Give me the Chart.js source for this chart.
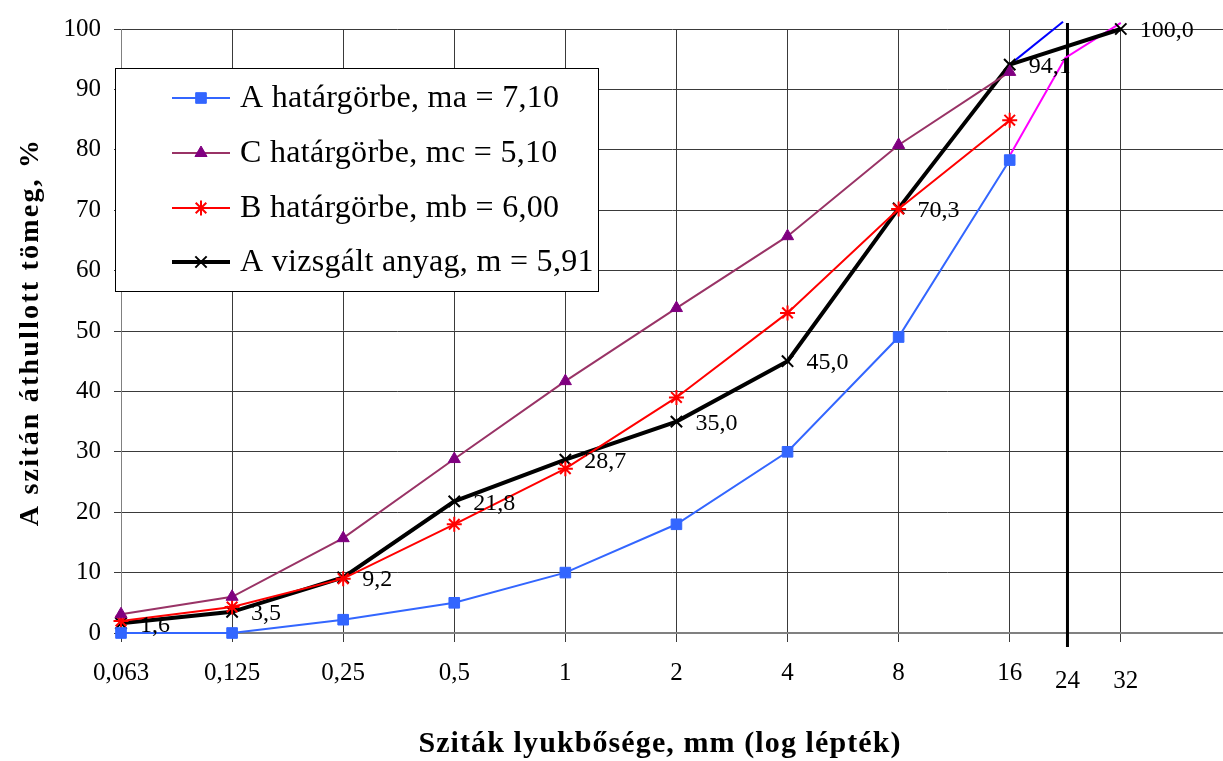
<!DOCTYPE html>
<html>
<head>
<meta charset="utf-8">
<script src="https://cdn.jsdelivr.net/npm/chart.js@4.4.1/dist/chart.umd.min.js"></script>
<style>
  html, body { margin: 0; padding: 0; background: #fff; overflow: hidden; }
  #wrap { width: 1223px; height: 761px; overflow: hidden; }
</style>
</head>
<body>
<div id="wrap"><canvas id="grading" width="1233" height="761"></canvas></div>
<script>
// Szitaméretek (kategória sorrendben) és a görbék értékei
const sieveLabels = ['0,063', '0,125', '0,25', '0,5', '1', '2', '4', '8', '16', '24', '32'];
const sievePos    = [0, 1, 2, 3, 4, 5, 6, 7, 8, 8.52, 9];

const curveA = [0, 0, 2.2, 5, 10, 18, 30, 49, 78.3];
const curveC = [3.1, 6, 15.7, 28.8, 41.7, 53.8, 65.7, 80.8, 92.9];
const curveB = [2, 4.3, 9, 18, 27.2, 39, 53, 70.2, 84.9];
const tested = [1.6, 3.5, 9.2, 21.8, 28.7, 35.0, 45.0, 70.3, 94.1, 100.0];
const testedSieves = ['0,063', '0,125', '0,25', '0,5', '1', '2', '4', '8', '16', '32'];

// kézzel rajzolt kiegészítő vonalak (a 24-es szitánál)
const blueExtX = [8, 8.48], blueExtY = [94.1, 101.2];
const pinkExtX = [8, 8.5, 9], pinkExtY = [79, 95.2, 101];
const line24X = [8.52, 8.52], line24Y = [-2.3, 101];

const seriesNames = [
    'A határgörbe, ma = 7,10',
    'C határgörbe, mc = 5,10',
    'B határgörbe, mb = 6,00',
    'A vizsgált anyag, m = 5,91'
];

const yTicks = [0, 10, 20, 30, 40, 50, 60, 70, 80, 90, 100];

function pts(xs, ys) {
    return ys.map((y, i) => ({ x: xs[i], y: y }));
}
const posOf = lbl => sievePos[sieveLabels.indexOf(lbl)];
const basePos = sieveLabels.slice(0, 9).map(posOf);

const FONT = '"Liberation Serif", "Times New Roman", serif';

// Egyedi jelmagyarázat a rajzterületen belül
const boxLegend = {
    id: 'boxLegend',
    afterDraw(chart) {
        const ctx = chart.ctx;
        ctx.save();
        ctx.fillStyle = '#fff';
        ctx.fillRect(115, 68, 483, 223);
        ctx.strokeStyle = '#000';
        ctx.lineWidth = 1;
        ctx.strokeRect(115.5, 68.5, 483, 223);
        const rows = [98, 153, 208, 262];
        for (let i = 0; i < 4; i++) {
            const ds = chart.data.datasets[i];
            const y = rows[i];
            ctx.strokeStyle = ds.borderColor;
            ctx.lineWidth = ds.borderWidth;
            ctx.beginPath();
            ctx.moveTo(172, y);
            ctx.lineTo(230, y);
            ctx.stroke();
            ctx.fillStyle = ds.pointBackgroundColor;
            ctx.strokeStyle = ds.pointBorderColor;
            ctx.lineWidth = ds.pointBorderWidth;
            Chart.helpers.drawPoint(ctx, {
                pointStyle: ds.pointStyle,
                radius: ds.pointRadius,
                rotation: 0,
                borderWidth: ds.pointBorderWidth
            }, 201, y);
            ctx.fillStyle = '#000';
            ctx.font = '32px ' + FONT;
            ctx.letterSpacing = '0.3px';
            ctx.textAlign = 'left';
            ctx.textBaseline = 'middle';
            ctx.fillText(seriesNames[i], 240, y + 1);
        }
        ctx.restore();
    }
};

// Címkék a vizsgált anyag pontjainál, x tengely feliratai és tengelycímek
const labelsAndTitles = {
    id: 'labelsAndTitles',
    afterDatasetsDraw(chart) {
        const ctx = chart.ctx;
        const meta = chart.getDatasetMeta(3);
        const xs = chart.scales.x;
        ctx.save();
        ctx.fillStyle = '#000';
        ctx.textBaseline = 'middle';

        ctx.font = '24px ' + FONT;
        ctx.textAlign = 'left';
        meta.data.forEach((p, i) => {
            ctx.fillText(tested[i].toFixed(1).replace('.', ','), p.x + 19, p.y + 2);
        });

        ctx.font = '25px ' + FONT;
        ctx.textAlign = 'center';
        sieveLabels.forEach((lbl, i) => {
            const low = (lbl === '24' || lbl === '32');
            const dx = lbl === '32' ? 5 : 0;
            ctx.fillText(lbl, xs.getPixelForValue(sievePos[i]) + dx, low ? 681 : 673);
        });

        ctx.font = 'bold 30px ' + FONT;
        ctx.letterSpacing = '1.1px';
        ctx.fillText('Sziták lyukbősége, mm (log lépték)', 660, 744);

        ctx.translate(31, 332);
        ctx.rotate(-Math.PI / 2);
        ctx.font = 'bold 28px ' + FONT;
        ctx.letterSpacing = '2.2px';
        ctx.fillText('A szitán áthullott tömeg, %', 0, 0);
        ctx.restore();
    }
};

const ctx = document.getElementById('grading').getContext('2d');
new Chart(ctx, {
    type: 'line',
    data: {
        datasets: [{
            label: seriesNames[0],
            data: pts(basePos, curveA),
            borderColor: '#3366ff',
            borderWidth: 2,
            pointStyle: 'rect',
            pointRadius: 7.5,
            pointBackgroundColor: '#3366ff',
            pointBorderColor: '#3366ff',
            pointBorderWidth: 1,
            clip: false
        }, {
            label: seriesNames[1],
            data: pts(basePos, curveC),
            borderColor: '#993366',
            borderWidth: 2,
            pointStyle: 'triangle',
            pointRadius: 7,
            pointBackgroundColor: '#800080',
            pointBorderColor: '#800080',
            pointBorderWidth: 1,
            clip: false
        }, {
            label: seriesNames[2],
            data: pts(basePos, curveB),
            borderColor: '#ff0000',
            borderWidth: 2,
            pointStyle: 'star',
            pointRadius: 7.5,
            pointBackgroundColor: '#ff0000',
            pointBorderColor: '#ff0000',
            pointBorderWidth: 2,
            clip: false
        }, {
            label: seriesNames[3],
            data: pts(testedSieves.map(posOf), tested),
            borderColor: '#000',
            borderWidth: 4,
            pointStyle: 'crossRot',
            pointRadius: 8,
            pointBackgroundColor: '#000',
            pointBorderColor: '#000',
            pointBorderWidth: 2,
            clip: false
        }, {
            data: pts(blueExtX, blueExtY),
            borderColor: '#0000ff',
            borderWidth: 2,
            pointRadius: 0,
            clip: false
        }, {
            data: pts(pinkExtX, pinkExtY),
            borderColor: '#ff00ff',
            borderWidth: 2,
            pointRadius: 0,
            clip: false
        }, {
            data: pts(line24X, line24Y),
            borderColor: '#000',
            borderWidth: 3,
            pointRadius: 0,
            clip: false
        }]
    },
    options: {
        responsive: false,
        devicePixelRatio: 1,
        animation: false,
        layout: { padding: { top: 29, right: 0, left: 0, bottom: 0 } },
        plugins: {
            legend: { display: false },
            tooltip: { enabled: false }
        },
        scales: {
            x: {
                type: 'linear',
                min: 0,
                max: 9.92,
                afterFit: s => { s.height = 128; s.paddingLeft = 0; s.paddingRight = 0; },
                afterBuildTicks: s => { s.ticks = sievePos.map(v => ({ value: v })); },
                ticks: { display: false },
                grid: { color: '#3a3a3a', lineWidth: 1, tickLength: 9 },
                border: { color: '#808080', width: 2 }
            },
            y: {
                min: 0,
                max: 100,
                afterFit: s => { s.width = 121; s.paddingTop = 0; s.paddingBottom = 0; },
                afterBuildTicks: s => { s.ticks = yTicks.map(v => ({ value: v })); },
                ticks: {
                    padding: 13,
                    color: '#000',
                    font: { family: FONT, size: 25 }
                },
                grid: { color: '#3a3a3a', lineWidth: 1, tickLength: 7 },
                border: { color: '#808080', width: 1 }
            }
        }
    },
    plugins: [labelsAndTitles, boxLegend]
});
</script>
</body>
</html>
